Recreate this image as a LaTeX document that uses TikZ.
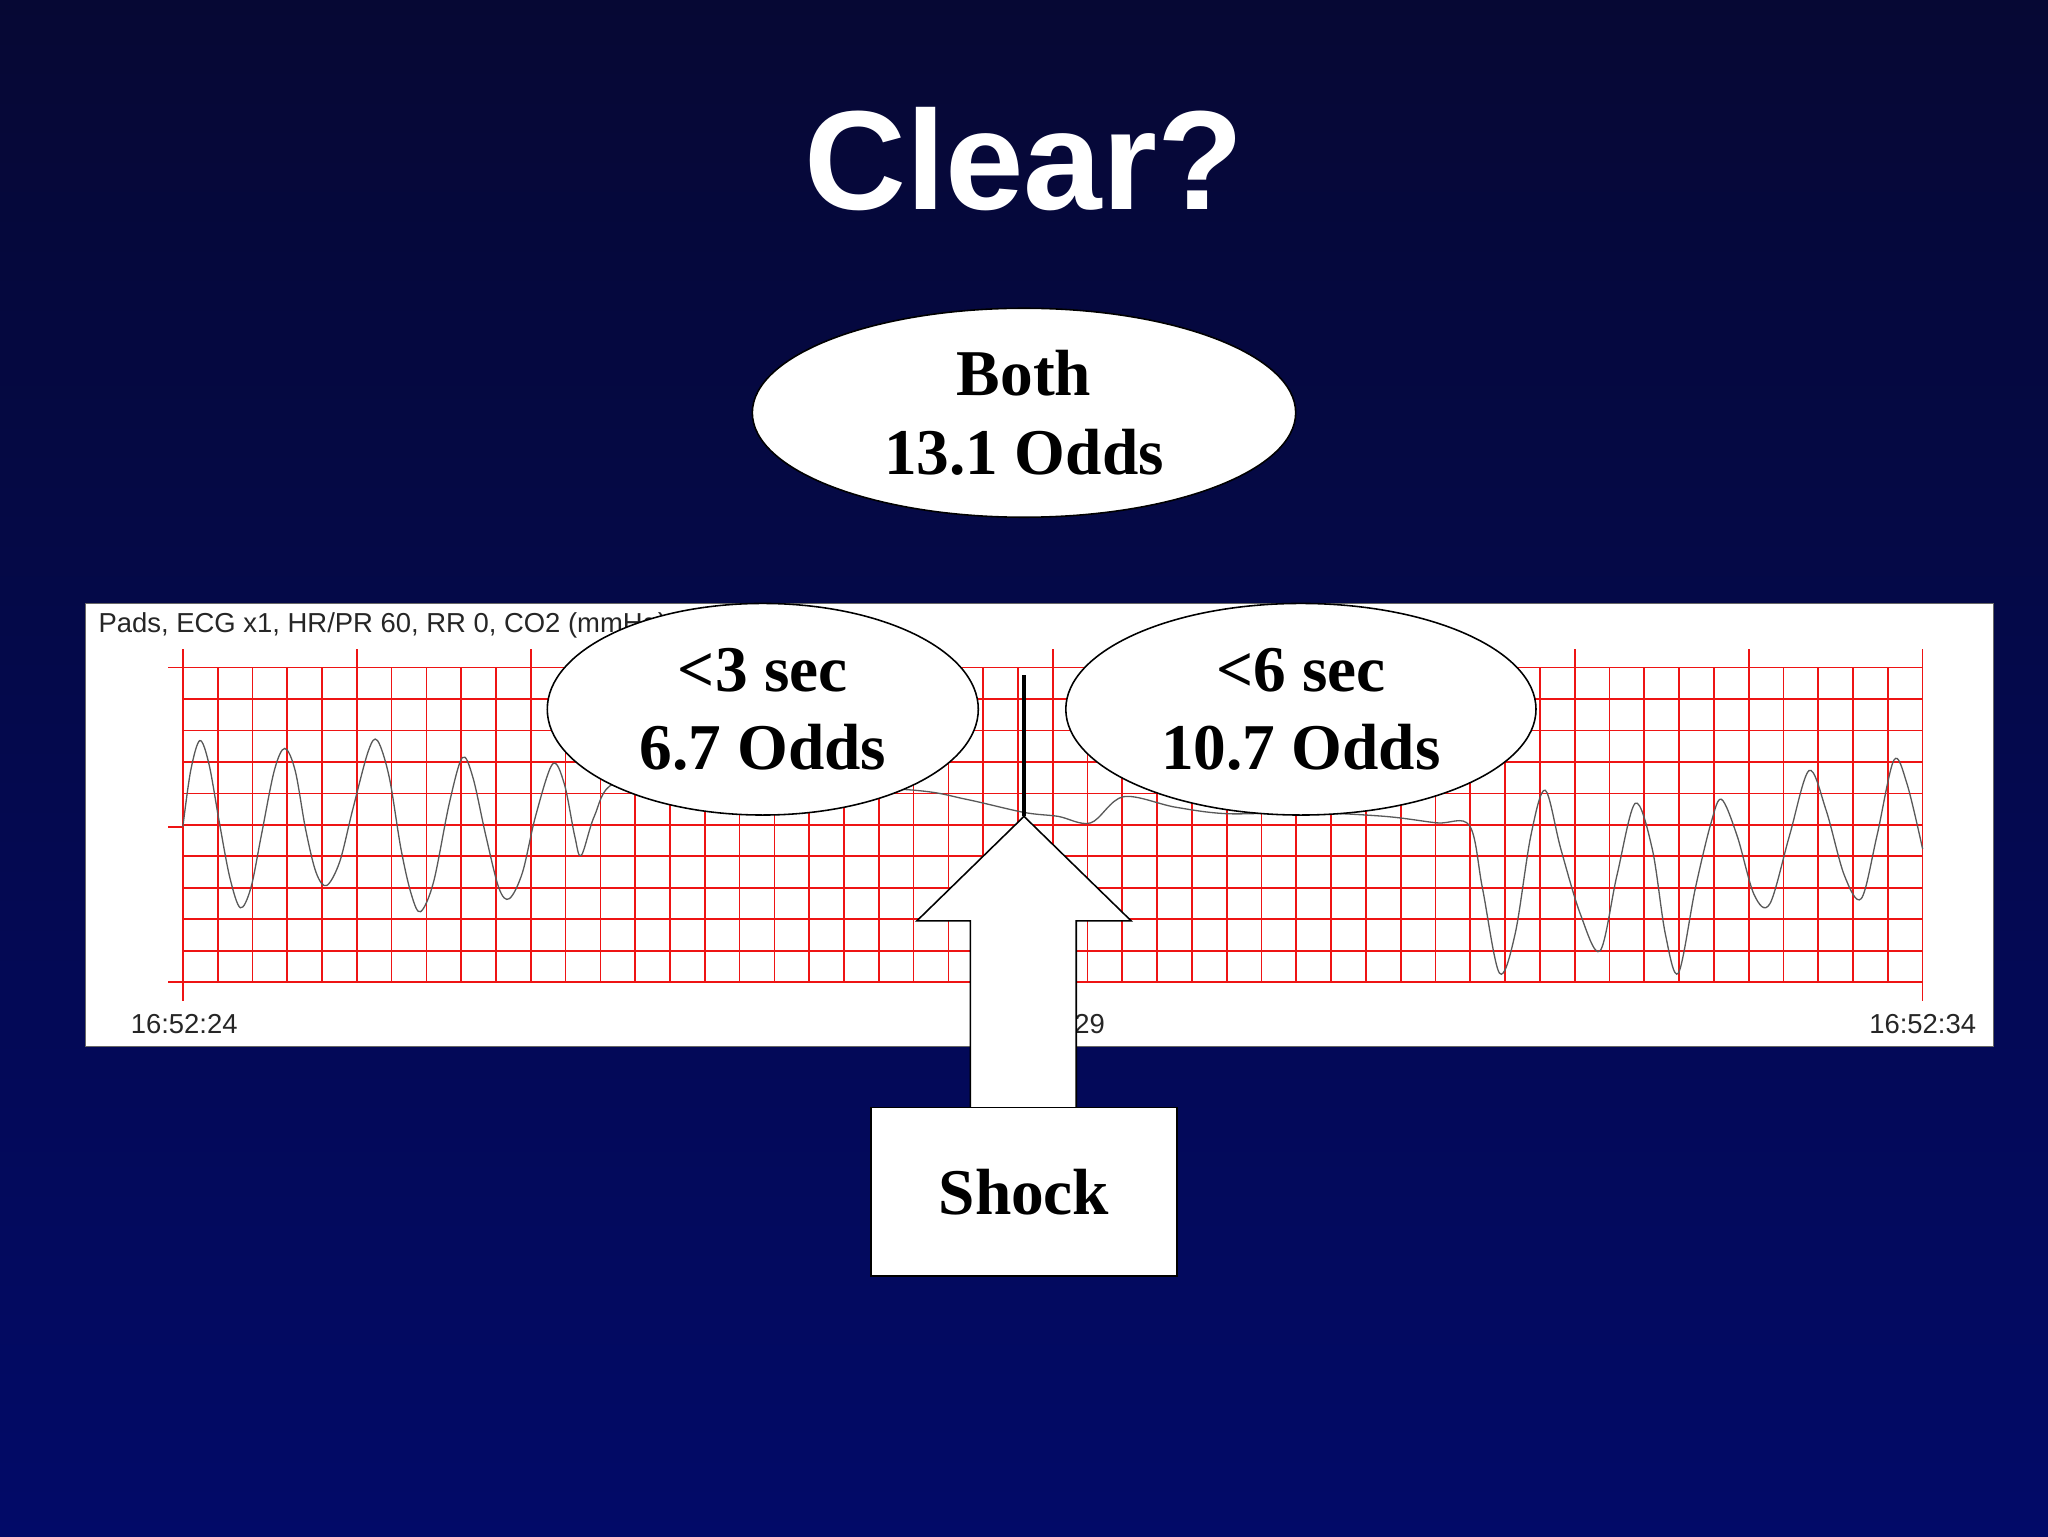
\documentclass[tikz,border=0pt]{standalone}
\usepackage{fontspec}
\setmainfont{Liberation Serif}
\newfontfamily\hsans{Liberation Sans}
\usetikzlibrary{shapes.geometric}
\definecolor{bgtop}{RGB}{6,8,52}
\definecolor{bgbot}{RGB}{2,10,104}
\definecolor{gridred}{RGB}{238,20,20}
\tikzset{
  bubble/.style={ellipse,draw=black,line width=1.2pt,fill=white,inner sep=0pt,align=center,font=\bfseries\fontsize{50}{60}\selectfont},
  ecgtime/.style={font=\hsans\fontsize{21}{24}\selectfont,text=black!85},
}
\begin{document}
\begin{tikzpicture}[x=1pt,y=-1pt]
\shade[top color=bgtop,bottom color=bgbot] (0,0) rectangle (1568,1176);
\useasboundingbox (0,0) rectangle (1568,1176);
\node[text=white,font=\hsans\bfseries\fontsize{108}{120}\selectfont] (title) at (784,122) {Clear?};
\node[bubble,minimum width=416pt,minimum height=160pt] (both) at (784,316) {Both\\13.1 Odds};
% ECG panel
\node[draw=black!60,fill=white,minimum width=1461pt,minimum height=339pt,inner sep=0pt] (panel) at (795.5,631.5) {};
\node[anchor=west,font=\hsans\fontsize{21}{24}\selectfont,text=black!85] (hdr) at (72,479) {Pads, ECG x1, HR/PR 60, RR 0, CO2 (mmHg)};
\begin{scope}[gridred,line width=1.3pt]
\foreach \i in {0,...,50} \draw (140+\i*26.64,511) -- (140+\i*26.64,752);
\foreach \j in {0,...,10} \draw (140,511+\j*24.1) -- (1472,511+\j*24.1);
\foreach \i in {0,...,10} \draw (140+\i*133.2,497) -- (140+\i*133.2,511);
\draw (140,497) -- (140,766);
\draw (1472,497) -- (1472,766);
\foreach \y in {511,633,752} \draw (129,\y) -- (140,\y);
\end{scope}
\draw[black!65,line width=1pt] plot[smooth,tension=0.55] coordinates {
(140,633) (146,590) (153,567) (160,585) (168,630) (176,672) (184,695) (192,680) (200,640) (210,590) (218,573) (226,590) (234,635) (242,668) (250,678) (260,660) (270,620) (282,575) (289,567) (298,595) (307,650) (315,685) (322,698) (332,675) (344,615) (354,580) (362,595) (372,640) (382,680) (390,688) (400,668) (410,625) (423,585) (432,600) (440,640) (445,655) (455,625) (470,600) (520,598) (600,600) (700,605) (740,612) (784,622) (810,625) (835,630) (860,610) (900,618) (940,623) (1000,622) (1060,625) (1100,630) (1125,632) (1135,680) (1148,745) (1160,715) (1172,640) (1183,605) (1195,650) (1210,700) (1225,728) (1238,670) (1252,615) (1265,650) (1275,715) (1285,745) (1298,680) (1310,630) (1318,612) (1330,640) (1343,685) (1355,692) (1370,640) (1385,590) (1398,620) (1412,670) (1425,688) (1437,640) (1450,582) (1460,600) (1472,650)};
\node[ecgtime] (t24) at (141,784) {16:52:24};
\node[ecgtime] (t29) at (805,784) {16:52:29};
\node[ecgtime] (t34) at (1472,784) {16:52:34};
\node[bubble,minimum width=330pt,minimum height=162pt] (b3) at (584,543) {<3 sec\\6.7 Odds};
\node[bubble,minimum width=360pt,minimum height=162pt] (b6) at (996,543) {<6 sec\\10.7 Odds};
\coordinate (tip) at (784,625);
\coordinate (ltop) at (784,517);
\draw[black,line width=2.5pt] (ltop) -- (tip);
\draw[black,line width=1.2pt,fill=white] (tip) -- (866,705) -- (824,705) -- (824,849) -- (743,849) -- (743,705) -- (702,705) -- cycle;
\node[draw=black,line width=1.2pt,fill=white,minimum width=234pt,minimum height=129pt,inner sep=0pt,font=\bfseries\fontsize{50}{60}\selectfont] (shock) at (784,912.5) {Shock};
\end{tikzpicture}
\end{document}
